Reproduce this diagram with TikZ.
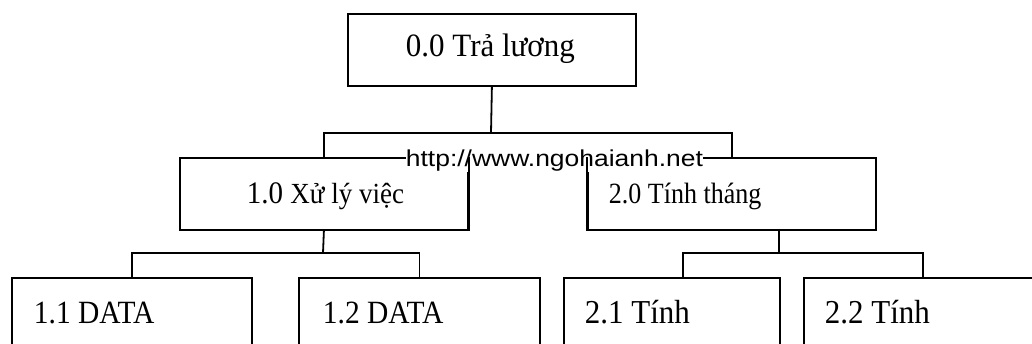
\documentclass[tikz,border=0pt]{standalone}
\usepackage{fontspec}
\usepackage{graphicx}
\setmainfont{Liberation Serif}
\newfontfamily\wmfont{Liberation Sans}
\begin{document}
\begin{tikzpicture}[x=1pt,y=-1pt,line width=1.8pt,
  boxnode/.style={draw,rectangle,inner sep=0pt,anchor=north west},
  lbl/.style={anchor=base west,inner sep=0pt},
  wire/.style={draw,line width=1.8pt}]
\useasboundingbox (0,0) rectangle (1032,344);
\fill[white] (0,0) rectangle (1032,344);
% boxes
\node[boxnode,minimum width=288pt,minimum height=72pt] (b00) at (347,13) {};
\node[boxnode,minimum width=288pt,minimum height=72pt] (b10) at (179,157) {};
\node[boxnode,minimum width=288pt,minimum height=72pt] (b20) at (587,157) {};
\node[boxnode,minimum width=240pt,minimum height=90pt] (b11) at (11,277) {};
\node[boxnode,minimum width=241pt,minimum height=90pt] (b12) at (298,277) {};
\node[boxnode,minimum width=216pt,minimum height=90pt] (b21) at (563,277) {};
\node[boxnode,minimum width=242pt,minimum height=90pt] (b22) at (803,277) {};
% connectors
\coordinate (j0) at (491,133);
\draw[wire] (b00.south) -- (j0);
\draw[wire] (b10.north) |- (j0) -| (b20.north);
\coordinate (j1) at (323,253);
\draw[wire] (b10.south) -- (j1);
\draw[wire] (b11.north) |- (j1) -| (b12.north);
\coordinate (t2) at (779,229);
\coordinate (j2) at (779,253);
\coordinate (d21) at (683,277);
\coordinate (d22) at (923,277);
\draw[wire] (t2) -- (j2);
\draw[wire] (d21) |- (j2) -| (d22);
% labels
\node[lbl] (l00) at (405,57) {\scalebox{1}[1.05]{\fontsize{31}{31}\selectfont 0.0 Trả lương}};
\node[lbl] (l10) at (246,204) {\scalebox{1}[1.08]{\fontsize{29}{29}\selectfont 1.0 \fontsize{27}{27}\selectfont Xử lý việc}};
\node[lbl] (l20) at (608,204) {\scalebox{1}[1.13]{\fontsize{26}{26}\selectfont 2.0 Tính tháng}};
\node[lbl] (l11) at (33,323) {\scalebox{1}[1.1]{\fontsize{29.5}{29.5}\selectfont 1.1 DATA}};
\node[lbl] (l12) at (322,323) {\scalebox{1}[1.1]{\fontsize{29.5}{29.5}\selectfont 1.2 DATA}};
\node[lbl] (l21) at (584,323) {\scalebox{1}[1.08]{\fontsize{31}{31}\selectfont 2.1 Tính}};
\node[lbl] (l22) at (824,323) {\scalebox{1}[1.08]{\fontsize{31}{31}\selectfont 2.2 Tính}};
% watermark
\node[lbl,fill=white] (wm) at (405,167) {\scalebox{1.15}[1]{\wmfont\fontsize{23}{23}\selectfont http://www.ngohaianh.net}};
\draw[wire] (b10.north east) -- (b10.south east);
\draw[wire] (b20.north west) -- (b20.south west);
\end{tikzpicture}
\end{document}
